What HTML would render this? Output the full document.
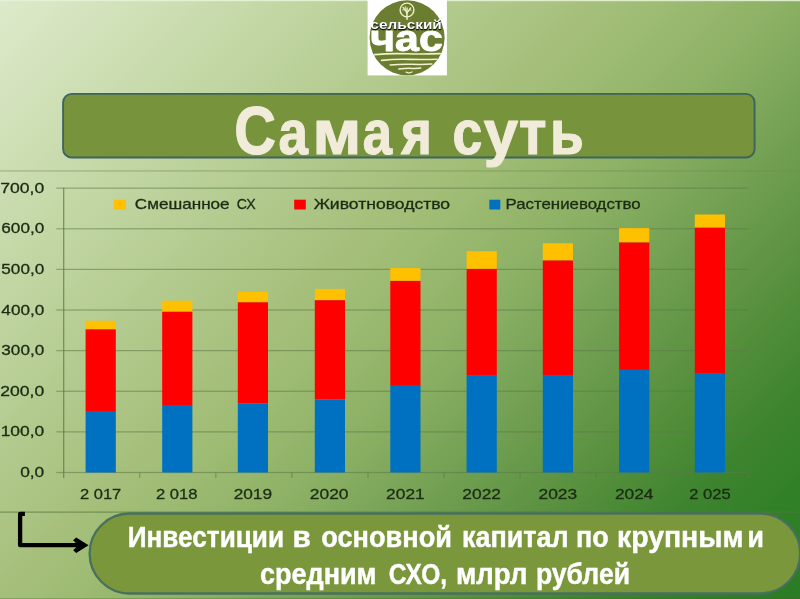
<!DOCTYPE html>
<html><head><meta charset="utf-8"><title>Самая суть</title>
<style>
html,body{margin:0;padding:0;}
body{width:800px;height:599px;overflow:hidden;font-family:"Liberation Sans",sans-serif;background:#8bb064;}
#page{position:relative;width:800px;height:599px;overflow:hidden;
background:linear-gradient(135deg,rgb(221,234,203) 0%,rgb(195,215,165) 20%,rgb(166,192,124) 42%,rgb(157,187,114) 48%,rgb(139,176,100) 57%,rgb(107,155,77) 69%,rgb(85,143,60) 77%,rgb(62,132,46) 85%,rgb(48,128,40) 92%,rgb(42,124,36) 100%);}
svg{position:absolute;left:0;top:0;will-change:transform;}
text{font-family:"Liberation Sans",sans-serif;}
</style></head><body>
<div id="page">
<svg width="800" height="599" viewBox="0 0 800 599">

<rect x="0" y="0" width="800" height="1.2" fill="#e6f2d6" opacity="0.9"/>
<rect x="0" y="598.2" width="800" height="0.8" fill="#3f6a2c" opacity="0.4"/>
<rect x="0" y="170.4" width="800" height="1.1" fill="#6f8a58" opacity="0.55"/>
<rect x="0" y="511.6" width="800" height="1" fill="#55783f" opacity="0.8"/>
<rect x="56.3" y="471.90" width="692.0" height="1.2" fill="#5d7a4a" opacity="0.56"/>
<rect x="56.3" y="431.28" width="692.0" height="1.2" fill="#5d7a4a" opacity="0.56"/>
<rect x="56.3" y="390.66" width="692.0" height="1.2" fill="#5d7a4a" opacity="0.56"/>
<rect x="56.3" y="350.04" width="692.0" height="1.2" fill="#5d7a4a" opacity="0.56"/>
<rect x="56.3" y="309.42" width="692.0" height="1.2" fill="#5d7a4a" opacity="0.56"/>
<rect x="56.3" y="268.80" width="692.0" height="1.2" fill="#5d7a4a" opacity="0.56"/>
<rect x="56.3" y="228.18" width="692.0" height="1.2" fill="#5d7a4a" opacity="0.56"/>
<rect x="56.3" y="187.56" width="692.0" height="1.2" fill="#5d7a4a" opacity="0.56"/>
<rect x="63.1" y="187.66" width="1.2" height="290.34" fill="#5d7a4a" opacity="0.8"/>
<rect x="139.27" y="472.50" width="1" height="5.5" fill="#5d7a4a" opacity="0.7"/>
<rect x="215.34" y="472.50" width="1" height="5.5" fill="#5d7a4a" opacity="0.7"/>
<rect x="291.41" y="472.50" width="1" height="5.5" fill="#5d7a4a" opacity="0.7"/>
<rect x="367.48" y="472.50" width="1" height="5.5" fill="#5d7a4a" opacity="0.7"/>
<rect x="443.55" y="472.50" width="1" height="5.5" fill="#5d7a4a" opacity="0.7"/>
<rect x="519.62" y="472.50" width="1" height="5.5" fill="#5d7a4a" opacity="0.7"/>
<rect x="595.69" y="472.50" width="1" height="5.5" fill="#5d7a4a" opacity="0.7"/>
<rect x="671.76" y="472.50" width="1" height="5.5" fill="#5d7a4a" opacity="0.7"/>
<rect x="747.83" y="472.50" width="1" height="5.5" fill="#5d7a4a" opacity="0.7"/>
<rect x="85.60" y="320.70" width="30.2" height="8.60" fill="#ffc000"/>
<rect x="85.60" y="329.30" width="30.2" height="81.70" fill="#ff0000"/>
<rect x="85.60" y="411.00" width="30.2" height="61.50" fill="#0070c0"/>
<rect x="162.20" y="300.70" width="30.2" height="11.00" fill="#ffc000"/>
<rect x="162.20" y="311.70" width="30.2" height="93.30" fill="#ff0000"/>
<rect x="162.20" y="405.00" width="30.2" height="67.50" fill="#0070c0"/>
<rect x="237.80" y="291.70" width="30.2" height="10.60" fill="#ffc000"/>
<rect x="237.80" y="302.30" width="30.2" height="101.00" fill="#ff0000"/>
<rect x="237.80" y="403.30" width="30.2" height="69.20" fill="#0070c0"/>
<rect x="314.80" y="288.90" width="30.2" height="11.30" fill="#ffc000"/>
<rect x="314.80" y="300.20" width="30.2" height="99.30" fill="#ff0000"/>
<rect x="314.80" y="399.50" width="30.2" height="73.00" fill="#0070c0"/>
<rect x="390.30" y="268.10" width="30.2" height="12.80" fill="#ffc000"/>
<rect x="390.30" y="280.90" width="30.2" height="105.00" fill="#ff0000"/>
<rect x="390.30" y="385.90" width="30.2" height="86.60" fill="#0070c0"/>
<rect x="466.60" y="251.30" width="30.2" height="17.60" fill="#ffc000"/>
<rect x="466.60" y="268.90" width="30.2" height="106.20" fill="#ff0000"/>
<rect x="466.60" y="375.10" width="30.2" height="97.40" fill="#0070c0"/>
<rect x="542.80" y="243.30" width="30.2" height="17.20" fill="#ffc000"/>
<rect x="542.80" y="260.50" width="30.2" height="114.60" fill="#ff0000"/>
<rect x="542.80" y="375.10" width="30.2" height="97.40" fill="#0070c0"/>
<rect x="619.10" y="228.10" width="30.2" height="14.40" fill="#ffc000"/>
<rect x="619.10" y="242.50" width="30.2" height="127.40" fill="#ff0000"/>
<rect x="619.10" y="369.90" width="30.2" height="102.60" fill="#0070c0"/>
<rect x="694.80" y="214.50" width="30.2" height="13.20" fill="#ffc000"/>
<rect x="694.80" y="227.70" width="30.2" height="145.80" fill="#ff0000"/>
<rect x="694.80" y="373.50" width="30.2" height="99.00" fill="#0070c0"/>
<text x="134.89" y="209" font-size="13.9" font-weight="normal" textLength="94.73" lengthAdjust="spacingAndGlyphs" fill="#1c2c14" stroke="#1c2c14" stroke-width="0.3" stroke-linejoin="round">Смешанное</text>
<text x="236.85" y="209" font-size="14.4" font-weight="normal" textLength="18.87" lengthAdjust="spacingAndGlyphs" fill="#1c2c14" stroke="#1c2c14" stroke-width="0.3" stroke-linejoin="round">СХ</text>
<text x="313.68" y="209" font-size="13.9" font-weight="normal" textLength="136.42" lengthAdjust="spacingAndGlyphs" fill="#1c2c14" stroke="#1c2c14" stroke-width="0.3" stroke-linejoin="round">Животноводство</text>
<text x="505.58" y="209" font-size="13.9" font-weight="normal" textLength="135.06" lengthAdjust="spacingAndGlyphs" fill="#1c2c14" stroke="#1c2c14" stroke-width="0.3" stroke-linejoin="round">Растениеводство</text>
<text x="20.17" y="477.1" font-size="14.0" font-weight="normal" textLength="24.10" lengthAdjust="spacingAndGlyphs" fill="#1c2c14" stroke="#1c2c14" stroke-width="0.3" stroke-linejoin="round">0,0</text>
<text x="0.69" y="436.48" font-size="14.0" font-weight="normal" textLength="43.58" lengthAdjust="spacingAndGlyphs" fill="#1c2c14" stroke="#1c2c14" stroke-width="0.3" stroke-linejoin="round">100,0</text>
<text x="0.33" y="395.86" font-size="14.0" font-weight="normal" textLength="43.90" lengthAdjust="spacingAndGlyphs" fill="#1c2c14" stroke="#1c2c14" stroke-width="0.3" stroke-linejoin="round">200,0</text>
<text x="1.33" y="355.24" font-size="14.0" font-weight="normal" textLength="42.90" lengthAdjust="spacingAndGlyphs" fill="#1c2c14" stroke="#1c2c14" stroke-width="0.3" stroke-linejoin="round">300,0</text>
<text x="1.38" y="314.62" font-size="14.0" font-weight="normal" textLength="42.86" lengthAdjust="spacingAndGlyphs" fill="#1c2c14" stroke="#1c2c14" stroke-width="0.3" stroke-linejoin="round">400,0</text>
<text x="1.33" y="274.0" font-size="14.0" font-weight="normal" textLength="42.90" lengthAdjust="spacingAndGlyphs" fill="#1c2c14" stroke="#1c2c14" stroke-width="0.3" stroke-linejoin="round">500,0</text>
<text x="1.33" y="233.38" font-size="14.0" font-weight="normal" textLength="42.90" lengthAdjust="spacingAndGlyphs" fill="#1c2c14" stroke="#1c2c14" stroke-width="0.3" stroke-linejoin="round">600,0</text>
<text x="0.33" y="192.76" font-size="14.0" font-weight="normal" textLength="43.90" lengthAdjust="spacingAndGlyphs" fill="#1c2c14" stroke="#1c2c14" stroke-width="0.3" stroke-linejoin="round">700,0</text>
<text x="79.98" y="498.6" font-size="14.8" font-weight="normal" textLength="41.26" lengthAdjust="spacingAndGlyphs" fill="#1c2c14" stroke="#1c2c14" stroke-width="0.3" stroke-linejoin="round">2 017</text>
<text x="155.97" y="498.6" font-size="14.8" font-weight="normal" textLength="41.51" lengthAdjust="spacingAndGlyphs" fill="#1c2c14" stroke="#1c2c14" stroke-width="0.3" stroke-linejoin="round">2 018</text>
<text x="233.65" y="498.6" font-size="14.8" font-weight="normal" textLength="38.35" lengthAdjust="spacingAndGlyphs" fill="#1c2c14" stroke="#1c2c14" stroke-width="0.3" stroke-linejoin="round">2019</text>
<text x="309.78" y="498.6" font-size="14.8" font-weight="normal" textLength="38.78" lengthAdjust="spacingAndGlyphs" fill="#1c2c14" stroke="#1c2c14" stroke-width="0.3" stroke-linejoin="round">2020</text>
<text x="386.12" y="498.6" font-size="14.8" font-weight="normal" textLength="38.59" lengthAdjust="spacingAndGlyphs" fill="#1c2c14" stroke="#1c2c14" stroke-width="0.3" stroke-linejoin="round">2021</text>
<text x="462.37" y="498.6" font-size="14.8" font-weight="normal" textLength="38.64" lengthAdjust="spacingAndGlyphs" fill="#1c2c14" stroke="#1c2c14" stroke-width="0.3" stroke-linejoin="round">2022</text>
<text x="538.57" y="498.6" font-size="14.8" font-weight="normal" textLength="38.62" lengthAdjust="spacingAndGlyphs" fill="#1c2c14" stroke="#1c2c14" stroke-width="0.3" stroke-linejoin="round">2023</text>
<text x="614.90" y="498.6" font-size="14.8" font-weight="normal" textLength="38.64" lengthAdjust="spacingAndGlyphs" fill="#1c2c14" stroke="#1c2c14" stroke-width="0.3" stroke-linejoin="round">2024</text>
<text x="689.19" y="498.6" font-size="14.8" font-weight="normal" textLength="41.42" lengthAdjust="spacingAndGlyphs" fill="#1c2c14" stroke="#1c2c14" stroke-width="0.3" stroke-linejoin="round">2 025</text>
<rect x="114" y="199.7" width="12" height="9.8" fill="#ffc000"/>
<rect x="294.2" y="199.7" width="11.6" height="9.8" fill="#ff0000"/>
<rect x="489.3" y="199.7" width="11" height="9.8" fill="#0070c0"/>
<rect x="63.1" y="93.9" width="691.5" height="63.6" rx="8.6" fill="#77933c" stroke="#3e6460" stroke-width="1.9"/>
<text x="234.35" y="154.1" font-size="68.6" font-weight="bold" textLength="41.73" lengthAdjust="spacingAndGlyphs" fill="#f1ecda" stroke="#f1ecda" stroke-width="1.2" stroke-linejoin="round">С</text>
<text x="278.38" y="154.1" font-size="63.6" font-weight="bold" textLength="29.45" lengthAdjust="spacingAndGlyphs" fill="#f1ecda" stroke="#f1ecda" stroke-width="1.2" stroke-linejoin="round">а</text>
<text x="312.49" y="154.1" font-size="63.6" font-weight="bold" textLength="48.75" lengthAdjust="spacingAndGlyphs" fill="#f1ecda" stroke="#f1ecda" stroke-width="1.2" stroke-linejoin="round">м</text>
<text x="362.68" y="154.1" font-size="63.6" font-weight="bold" textLength="29.31" lengthAdjust="spacingAndGlyphs" fill="#f1ecda" stroke="#f1ecda" stroke-width="1.2" stroke-linejoin="round">а</text>
<text x="400.94" y="154.1" font-size="63.6" font-weight="bold" textLength="30.87" lengthAdjust="spacingAndGlyphs" fill="#f1ecda" stroke="#f1ecda" stroke-width="1.2" stroke-linejoin="round">я</text>
<text x="452.62" y="154.1" font-size="63.6" font-weight="bold" textLength="29.80" lengthAdjust="spacingAndGlyphs" fill="#f1ecda" stroke="#f1ecda" stroke-width="1.2" stroke-linejoin="round">с</text>
<text x="483.70" y="154.1" font-size="63.6" font-weight="bold" textLength="34.30" lengthAdjust="spacingAndGlyphs" fill="#f1ecda" stroke="#f1ecda" stroke-width="1.2" stroke-linejoin="round">у</text>
<text x="518.95" y="154.1" font-size="63.6" font-weight="bold" textLength="27.46" lengthAdjust="spacingAndGlyphs" fill="#f1ecda" stroke="#f1ecda" stroke-width="1.2" stroke-linejoin="round">т</text>
<text x="550.04" y="154.1" font-size="63.6" font-weight="bold" textLength="33.80" lengthAdjust="spacingAndGlyphs" fill="#f1ecda" stroke="#f1ecda" stroke-width="1.2" stroke-linejoin="round">ь</text>
<rect x="89.6" y="513.5" width="710.6" height="80" rx="40" fill="#7a973c" stroke="#48705e" stroke-width="2.3"/>
<text x="127.72" y="547" font-size="29" font-weight="bold" textLength="156.29" lengthAdjust="spacingAndGlyphs" fill="#ffffff" stroke="#ffffff" stroke-width="0.45" stroke-linejoin="round">Инвестиции</text>
<text x="292.46" y="547" font-size="29" font-weight="bold" textLength="18.30" lengthAdjust="spacingAndGlyphs" fill="#ffffff" stroke="#ffffff" stroke-width="0.45" stroke-linejoin="round">в</text>
<text x="321.23" y="547" font-size="29" font-weight="bold" textLength="130.78" lengthAdjust="spacingAndGlyphs" fill="#ffffff" stroke="#ffffff" stroke-width="0.45" stroke-linejoin="round">основной</text>
<text x="461.98" y="547" font-size="29" font-weight="bold" textLength="106.55" lengthAdjust="spacingAndGlyphs" fill="#ffffff" stroke="#ffffff" stroke-width="0.45" stroke-linejoin="round">капитал</text>
<text x="575.96" y="547" font-size="29" font-weight="bold" textLength="32.63" lengthAdjust="spacingAndGlyphs" fill="#ffffff" stroke="#ffffff" stroke-width="0.45" stroke-linejoin="round">по</text>
<text x="616.98" y="547" font-size="29" font-weight="bold" textLength="126.56" lengthAdjust="spacingAndGlyphs" fill="#ffffff" stroke="#ffffff" stroke-width="0.45" stroke-linejoin="round">крупным</text>
<text x="747.46" y="547" font-size="29" font-weight="bold" textLength="16.44" lengthAdjust="spacingAndGlyphs" fill="#ffffff" stroke="#ffffff" stroke-width="0.45" stroke-linejoin="round">и</text>
<text x="259.99" y="583.8" font-size="29" font-weight="bold" textLength="116.54" lengthAdjust="spacingAndGlyphs" fill="#ffffff" stroke="#ffffff" stroke-width="0.45" stroke-linejoin="round">средним</text>
<text x="388.71" y="583.8" font-size="29" font-weight="bold" textLength="58.31" lengthAdjust="spacingAndGlyphs" fill="#ffffff" stroke="#ffffff" stroke-width="0.45" stroke-linejoin="round">СХО,</text>
<text x="455.97" y="583.8" font-size="29" font-weight="bold" textLength="71.40" lengthAdjust="spacingAndGlyphs" fill="#ffffff" stroke="#ffffff" stroke-width="0.45" stroke-linejoin="round">млрл</text>
<text x="535.98" y="583.8" font-size="29" font-weight="bold" textLength="94.04" lengthAdjust="spacingAndGlyphs" fill="#ffffff" stroke="#ffffff" stroke-width="0.45" stroke-linejoin="round">рублей</text>
<path d="M24.9 513.9 H20.1 V545.2 H80" fill="none" stroke="#000" stroke-width="4.3" stroke-linejoin="round"/>
<path d="M88.6 545.2 L76.2 537.6 L73.1 540.3 L78.2 545.2 L73.2 550.3 L76.2 553 Z" fill="#000"/>
<rect x="367.6" y="0" width="79.3" height="75.4" fill="#ffffff"/>
<circle cx="407.1" cy="37.8" r="37.5" fill="#6b7d31"/>
<g fill="none" stroke="#eef2cc" stroke-linecap="round">
<circle cx="407" cy="10" r="6.9" stroke-width="1.4"/>
<path d="M407 7.9 V19.2" stroke-width="1.5"/>
<path d="M403.1 7.4 L407 12.8 L410.6 8.0" stroke-width="1.3"/>
<path d="M404.6 9.6 L402.6 9.9 M409.4 9.7 L411.2 10.3 M405.3 6.6 L405.2 9.9" stroke-width="0.9"/>
</g>
<g fill="none" stroke="#f0f4c8" stroke-linecap="round">
<path d="M374.6 54.6 Q390 53.2 407 53.8 T440.2 53.6" stroke-width="1.6"/>
<path d="M381.6 60.4 Q395 59.0 410 59.4 T437.2 59.2" stroke-width="1.6"/>
<path d="M390.2 64.9 Q400 64.0 412 64.3 T431.8 64.0" stroke-width="1.5"/>
<path d="M398.8 68.9 Q406 68.2 412 68.4 T420.8 68.0" stroke-width="1.5"/>
<path d="M406.2 72.2 L408.6 73.0 L412 72.0" stroke-width="1.3"/>
</g>

<text x="370.20" y="50.6" font-size="36.5" font-weight="bold" textLength="72.56" lengthAdjust="spacingAndGlyphs" fill="#ffffff" stroke="#ffffff" stroke-width="0.9" stroke-linejoin="round">час</text>
<text x="370.58" y="29.8" font-size="13.6" font-weight="bold" textLength="71.45" lengthAdjust="spacingAndGlyphs" fill="#10140a" stroke="#10140a" stroke-width="0.5">сельский</text>
<text x="370.38" y="28.5" font-size="13.6" font-weight="bold" textLength="71.45" lengthAdjust="spacingAndGlyphs" fill="#ffffff">сельский</text>
</svg>
</div>
</body></html>
